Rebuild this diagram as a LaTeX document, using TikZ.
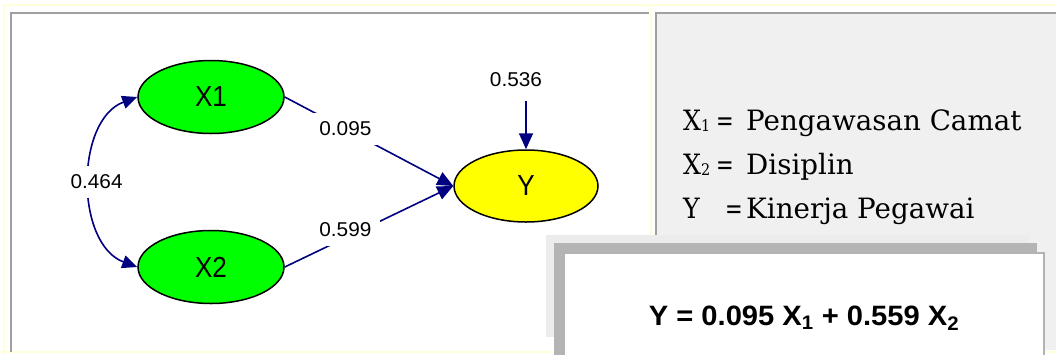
\documentclass[tikz,border=0pt]{standalone}
\usepackage{fontspec}
\newfontfamily\arialf{Liberation Sans}
\newfontfamily\legf{DejaVu Serif}
\usetikzlibrary{arrows.meta,shapes.geometric}
\definecolor{navy}{RGB}{0,0,128}
\definecolor{cream}{RGB}{255,255,220}
\definecolor{panelgray}{RGB}{240,240,240}
\definecolor{bordergray}{RGB}{160,160,160}
\definecolor{shadowlight}{RGB}{236,236,236}
\definecolor{shadowdark}{RGB}{180,180,180}
\definecolor{nodegreen}{RGB}{0,255,0}
\definecolor{nodeyellow}{RGB}{255,255,0}
\newcommand\sx[2]{\scalebox{#1}[1]{#2}}
\newcommand\lsub[1]{\raisebox{-1pt}{\fontsize{16}{16}\selectfont #1}}
\begin{document}
\begin{tikzpicture}[x=1pt,y=-1pt,
  latent/.style={ellipse, draw=black, line width=1.5pt, minimum width=146pt,
    minimum height=73pt, inner sep=0pt, font=\arialf\fontsize{29}{29}\selectfont},
  coef/.style={fill=white, inner xsep=9pt, inner ysep=9pt,
    font=\arialf\fontsize{20}{20}\selectfont},
  pathline/.style={draw=navy, line width=1.6pt, -{Triangle[length=16pt,width=14pt]}},
  corr/.style={draw=navy, line width=1.6pt,
    {Triangle[length=15pt,width=13pt]}-{Triangle[length=15pt,width=13pt]}},
  legend/.style={anchor=base west, inner sep=0pt, font=\legf\fontsize{28}{28}\selectfont},
  eqn/.style={anchor=base, inner sep=0pt, font=\arialf\bfseries\fontsize{28}{28}\selectfont}
]
\clip (0,0) rectangle (1056,354);
\fill[white] (0,0) rectangle (1056,354);
% cream frame
\draw[cream, line width=2.5pt] (4,360) -- (4,5) -- (1060,5);
\draw[cream, line width=2.5pt] (651,5) -- (651,352);
\draw[cream, line width=2.5pt] (0,352) -- (1060,352);
% left panel
\fill[white] (11,13) rectangle (649,350);
\draw[bordergray, line width=2pt] (11,352) -- (11,13) -- (649,13);
% right panel
\fill[panelgray] (656,13) rectangle (1060,350);
\draw[bordergray, line width=2pt] (656,352) -- (656,13) -- (1060,13);
% equation box with shadows
\fill[shadowlight] (546,235) rectangle (1029,337);
\fill[shadowdark] (554,243) rectangle (1037,360);
\filldraw[fill=white, draw=bordergray!80, line width=1.2pt] (564,253) rectangle (1044,362);
\node[eqn] (eq) at (804,325) {\sx{1.04}{Y = 0.095 X\textsubscript{1} + 0.559 X\textsubscript{2}}};

% legend
\node[legend] (l1a) at (683,130) {\sx{0.9}{X\lsub{1}}};
\node[legend] (l1b) at (716,130) {\sx{0.75}{=}};
\node[legend] (l1c) at (746,130) {\sx{0.99}{Pengawasan Camat}};
\node[legend] (l2a) at (683,174) {\sx{0.9}{X\lsub{2}}};
\node[legend] (l2b) at (716,174) {\sx{0.75}{=}};
\node[legend] (l2c) at (746,174) {\sx{0.99}{Disiplin}};
\node[legend] (l3a) at (683,218) {\sx{0.9}{Y}};
\node[legend] (l3b) at (725,218) {\sx{0.75}{=}};
\node[legend] (l3c) at (746,218) {\sx{0.99}{Kinerja Pegawai}};

% diagram nodes
\node[latent, fill=nodegreen] (X1) at (211,97) {\sx{0.9}{X1}};
\node[latent, fill=nodegreen] (X2) at (211,267) {\sx{0.9}{X2}};
\node[latent, fill=nodeyellow, minimum width=144pt, minimum height=72pt] (Y) at (526,186) {\sx{0.9}{Y}};
\node[font=\arialf\fontsize{20}{20}\selectfont, inner sep=0pt] (e) at (516,80) {\sx{1.04}{0.536}};
\coordinate (eY) at (526,101);

% connectors
\draw[pathline] (X1.east) -- node[coef, pos=0.36] {\sx{1.04}{0.095}} (Y.west);
\draw[pathline] (X2.east) -- node[coef, pos=0.36, yshift=8pt] {\sx{1.04}{0.599}} (Y.west);
\draw[pathline] (eY) -- (Y.north);
\draw[corr] (X1.west) .. controls (75,120) and (75,244) .. node[coef, pos=0.5, xshift=6pt] {\sx{1.04}{0.464}} (X2.west);
\end{tikzpicture}
\end{document}
